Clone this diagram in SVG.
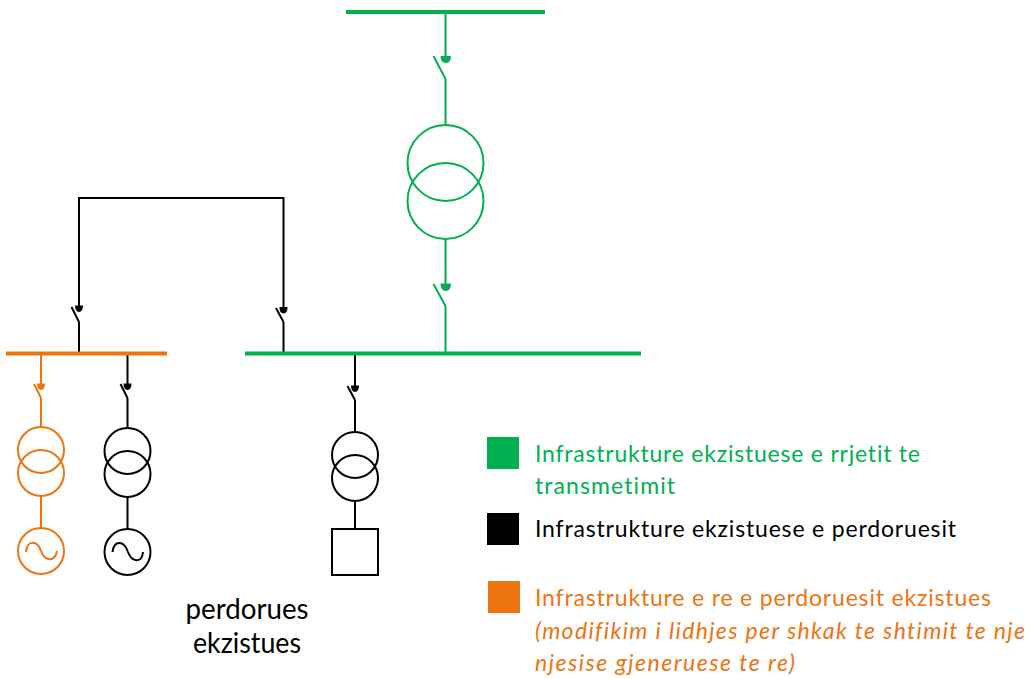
<svg xmlns="http://www.w3.org/2000/svg" width="1030" height="679" viewBox="0 0 1030 679">
<style>
.l{fill:none;stroke-width:2;stroke-linecap:butt;stroke-linejoin:miter}
.g{stroke:#00b050}.k{stroke:#000}.o{stroke:#ed7411}
.bus{fill:none;stroke-width:4}
.t{font-family:Lato,"Liberation Sans",sans-serif;font-size:23px;font-variant-ligatures:none}
.u{font-size:28px}
.fg{fill:#00b050}.fk{fill:#000}.fo{fill:#ed7411}
</style>
<rect width="1030" height="679" fill="#fff"/>
<g id="connectors">
<path class="l g" d="M445.500 14V57M445.500 79V125M445.500 239V284M445.500 306V352"/>
<path class="l k" d="M79 353V322M79 306V198H283.500V307M283.500 322V353"/>
<path class="l o" d="M41 355V384M41 398V427M41 496V528"/>
<path class="l k" d="M127.500 355V384M127.500 398V428M127.500 497V529"/>
<path class="l k" d="M355 355V386M355 400V432M355 501V529"/>
</g>
<g id="bus-top"><path class="bus g" d="M346 12H545"/></g>
<g id="bus-main"><path class="bus g" d="M245 353.500H641"/></g>
<g id="bus-orange"><path class="bus o" d="M6 353.500H167"/></g>
<g id="switch-top"><path class="l g" d="M433.500 56L445.500 79"/><path class="fg" d="M440.500 56H451Q451 63 445.700 63Q440.500 63 440.500 56Z"/></g>
<g id="transformer-top"><circle class="l g" cx="445.500" cy="163" r="38"/><circle class="l g" cx="445.500" cy="201" r="38"/></g>
<g id="switch-main"><path class="l g" d="M433.500 284L445.500 306"/><path class="fg" d="M440.500 283.500H451Q451 291 445.700 291Q440.500 291 440.500 283.500Z"/></g>
<g id="switch-left"><path class="l k" d="M71.500 307L79 322"/><path class="fk" d="M75 305.500H83Q83 312 79 312Q75 312 75 305.500Z"/></g>
<g id="switch-right"><path class="l k" d="M276 308L283.500 322"/><path class="fk" d="M279.500 307H287.500Q287.500 313.500 283.500 313.500Q279.500 313.500 279.500 307Z"/></g>
<g id="unit-orange">
<path class="l o" d="M34 384L41 398"/><path class="fo" d="M37 383.500H45Q45 390 41 390Q37 390 37 383.500Z"/>
<circle class="l o" cx="41" cy="450" r="23"/><circle class="l o" cx="41" cy="473" r="23"/><circle class="l o" cx="41" cy="551" r="23"/>
<path class="l o" d="M26 552C27 540 37 540 41 551C45 562 55 562 57 551"/>
</g>
<g id="unit-black">
<path class="l k" d="M120.500 384L127.500 398"/><path class="fk" d="M123.500 383.500H131.500Q131.500 390 127.500 390Q123.500 390 123.500 383.500Z"/>
<circle class="l k" cx="127.500" cy="451" r="23"/><circle class="l k" cx="127.500" cy="474" r="23"/><circle class="l k" cx="127.500" cy="552" r="23"/>
<path class="l k" d="M112.500 552C114 540 124 540 128 552C132 563 142 563 143 552"/>
</g>
<g id="unit-middle">
<path class="l k" d="M347.500 386L355 400"/><path class="fk" d="M351 385.500H359Q359 392 355 392Q351 392 351 385.500Z"/>
<circle class="l k" cx="355" cy="455" r="23"/><circle class="l k" cx="355" cy="478" r="23"/>
<rect class="l k" x="332" y="529" width="46" height="46"/>
</g>
<g id="label-user">
<text class="t u fk" x="247" y="619" text-anchor="middle" textLength="123" lengthAdjust="spacingAndGlyphs">perdorues</text>
<text class="t u fk" x="247" y="653" text-anchor="middle" textLength="108" lengthAdjust="spacingAndGlyphs">ekzistues</text>
</g>
<g id="legend-green">
<rect class="fg" x="487" y="437" width="32" height="32"/>
<text class="t fg" x="535" y="462" textLength="385" lengthAdjust="spacing">Infrastrukture ekzistuese e rrjetit te</text>
<text class="t fg" x="535" y="494" textLength="140" lengthAdjust="spacing">transmetimit</text>
</g>
<g id="legend-black">
<rect class="fk" x="487" y="513" width="32" height="32"/>
<text class="t fk" x="535" y="537" textLength="421" lengthAdjust="spacing">Infrastrukture ekzistuese e perdoruesit</text>
</g>
<g id="legend-orange">
<rect class="fo" x="488" y="581" width="32" height="32"/>
<text class="t fo" x="535" y="606" textLength="456" lengthAdjust="spacing">Infrastrukture e re e perdoruesit ekzistues</text>
<text class="t fo" x="535" y="639" font-style="italic" textLength="490" lengthAdjust="spacing">(modifikim i lidhjes per shkak te shtimit te nje</text>
<text class="t fo" x="535" y="671" font-style="italic" textLength="260" lengthAdjust="spacing">njesise gjeneruese te re)</text>
</g>
</svg>
